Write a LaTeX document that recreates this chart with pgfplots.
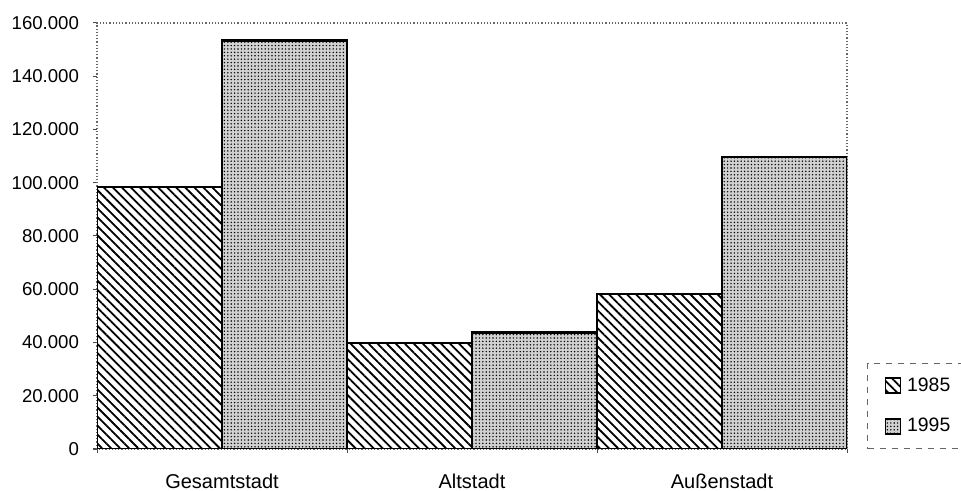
\documentclass[border=0pt]{standalone}
\usepackage{fontspec}
\setmainfont{Liberation Sans}
\usepackage{pgfplots}
\pgfplotsset{compat=1.18}
\usetikzlibrary{patterns.meta}

\begin{document}
\begin{tikzpicture}[font=\fontsize{10}{12}\selectfont]
\useasboundingbox (0,0) rectangle (480.5pt,245.5pt);
\begin{axis}[
  at={(48.5pt,21pt)}, anchor=south west,
  scale only axis, width=375pt, height=213pt,
  xmin=-0.5, xmax=2.5, ymin=0, ymax=160000,
  xtick={0,1,2}, xticklabels={Gesamtstadt,Altstadt,Außenstadt},
  major x tick style={draw=none},
  minor xtick={-0.5,0.5,1.5,2.5},
  ytick={0,20000,40000,60000,80000,100000,120000,140000,160000},
  yticklabels={0,20.000,40.000,60.000,80.000,100.000,120.000,140.000,160.000},
  scaled y ticks=false,
  xtick pos=bottom, ytick pos=left,
  tick align=outside,
  major tick length=2pt, minor tick length=2pt,
  tick style={black!70, line width=0.5pt},
  axis line style={black!60, densely dotted, line width=0.6pt},
  xticklabel style={yshift=-7pt},
  yticklabel style={xshift=-3.5pt, font=\fontsize{9.3}{11}\selectfont},
  legend style={at={(1.0267,0.2019)}, anchor=north west,
    draw=black!60, dashed, line width=0.5pt,
    inner xsep=8.5pt, inner ysep=5pt, row sep=8pt,
    font=\fontsize{9.7}{12}\selectfont},
  legend cell align=left,
  legend image code/.code={\draw[#1, line width=0.8pt, solid] (0pt,-3.75pt) rectangle (7.5pt,3.75pt);},
]
\addplot[ybar, bar width=0.5, bar shift=-0.25, draw=black, line width=1.3pt,
  pattern={Lines[angle=-45,distance=3.2pt,line width=0.9pt]}]
  coordinates {(0,98400) (1,39800) (2,58200)};
\addlegendentry{\hspace*{1pt}1985\hspace*{14pt}}
\addplot[ybar, bar width=0.5, bar shift=0.25, draw=black, line width=1.3pt,
  fill=black!18, postaction={pattern={Dots[distance=1.7pt,radius=0.4pt]}}]
  coordinates {(0,153500) (1,43800) (2,109600)};
\addlegendentry{\hspace*{1pt}1995\hspace*{14pt}}
\end{axis}
\end{tikzpicture}
\end{document}
